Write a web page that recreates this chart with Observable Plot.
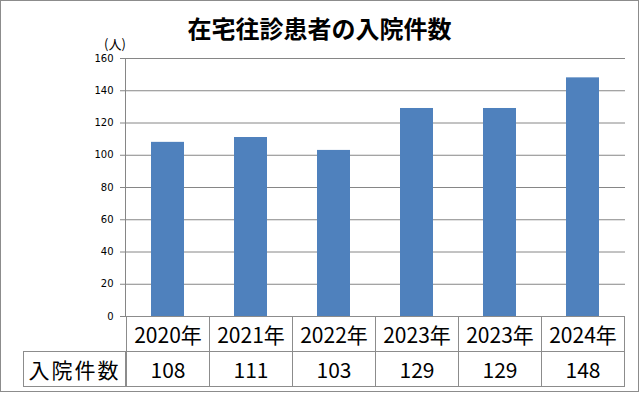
<!DOCTYPE html>
<html><head><meta charset="utf-8">
<script src="https://cdn.jsdelivr.net/npm/d3@7"></script>
<script src="https://cdn.jsdelivr.net/npm/@observablehq/plot@0.6"></script>
<style>
body{margin:0;background:#fff;}
#wrap{position:relative;width:639px;height:393px;overflow:hidden;font-family:"Noto Sans CJK JP",sans-serif;color:#000;}
#border{position:absolute;left:0;top:0;width:639px;height:392px;box-sizing:border-box;border:1px solid #8c8c8c;pointer-events:none;}
#title{position:absolute;left:0;width:639px;top:13px;text-align:center;font-size:24px;font-weight:bold;line-height:30px;}
#unit{position:absolute;left:104px;top:35px;font-size:13px;line-height:18px;}
#chart{position:absolute;left:0;top:0;}
.cell{position:absolute;box-sizing:border-box;border:1px solid #8c8c8c;display:flex;align-items:center;justify-content:center;font-size:21px;line-height:1;background:transparent;}
</style></head>
<body>
<div id="wrap">
  <div id="chart"></div>
  <div id="title"></div>
  <div id="unit"></div>
  <div id="border"></div>
</div>
<script>
const titleText = "在宅往診患者の入院件数";
const unitText = "(人)";
const categories = ["2020年", "2021年", "2022年", "2023年", "2023年", "2024年"];
const values = [108, 111, 103, 129, 129, 148];
const rowLabel = "入院件数";
const yTicks = [0, 20, 40, 60, 80, 100, 120, 140, 160];

document.getElementById("title").textContent = titleText;
document.getElementById("unit").textContent = unitText;

const data = values.map((v, i) => ({i, v}));
const plot = Plot.plot({
  width: 639, height: 393,
  marginLeft: 125, marginRight: 14, marginTop: 58, marginBottom: 77,
  x: {type: "band", domain: d3.range(categories.length), paddingInner: 0.6, paddingOuter: 0.3, axis: null},
  y: {domain: [0, 160], axis: null},
  marks: [
    Plot.ruleY(yTicks.slice(1), {stroke: "#868686", strokeOpacity: 1}),
    Plot.barY(data, {x: "i", y: "v", fill: "#4F81BD"}),
    Plot.ruleY([0], {stroke: "#868686"}),
    Plot.axisY(yTicks, {label: null, tickSize: 5, tickPadding: 7, stroke: "#868686", fill: "#000", fontSize: 10, fontFamily: "DejaVu Sans"}),
    Plot.frame({anchor: "left", stroke: "#868686"})
  ]
});
plot.style.background = "transparent";
document.getElementById("chart").appendChild(plot);

const wrap = document.getElementById("wrap");
const xs = plot.scale("x");
const bw = xs.bandwidth;
const step = bw / (1 - 0.6);
const y0 = 316, rowH = 35;
function cell(x, y, w, h, text, extra) {
  const d = document.createElement("div");
  d.className = "cell";
  d.style.left = x + "px"; d.style.top = y + "px";
  d.style.width = w + "px"; d.style.height = h + "px";
  if (extra) Object.assign(d.style, extra);
  d.textContent = text;
  wrap.appendChild(d);
}
categories.forEach((c, i) => {
  const cx = xs.apply(i) + bw / 2;
  const left = Math.round(cx - step / 2);
  const right = Math.round(cx + step / 2);
  cell(left, y0, right - left + 1, rowH + 1, c);
  cell(left, y0 + rowH, right - left + 1, rowH + 1, String(values[i]));
});
cell(23, y0 + rowH, 125 - 23 + 1, rowH + 1, rowLabel, {letterSpacing: "2px"});
</script>
</body></html>
